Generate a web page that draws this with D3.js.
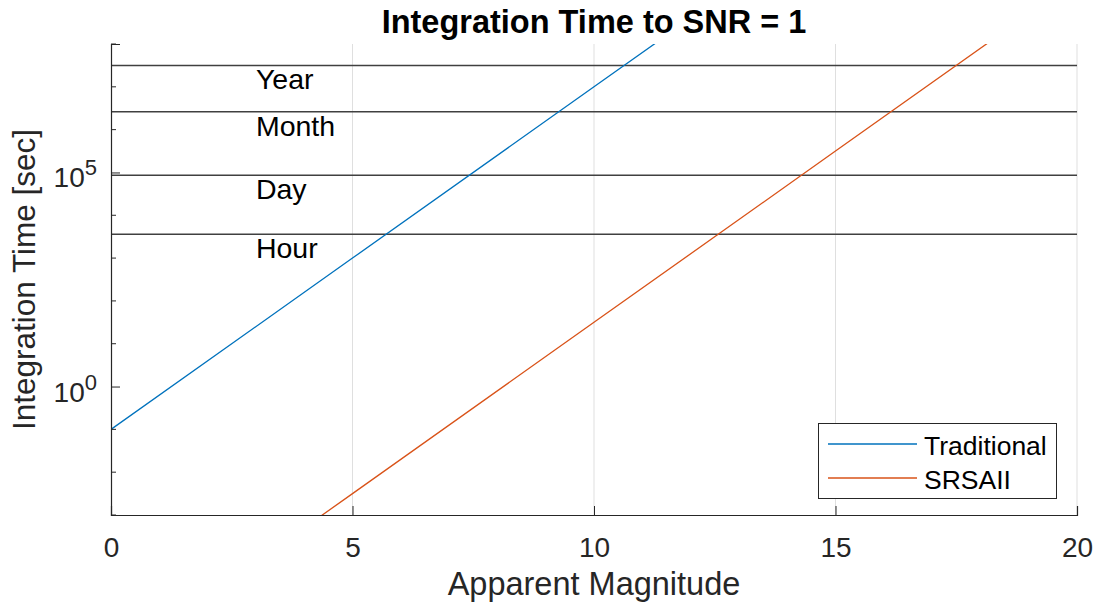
<!DOCTYPE html>
<html><head><meta charset="utf-8">
<script src="https://cdn.jsdelivr.net/npm/d3@7"></script>
<style>body{margin:0;background:#fff}svg{display:block}text{font-family:"Liberation Sans",Arial,sans-serif}</style>
</head><body><svg id="c" width="1097" height="602"></svg>
<script>
const magnitudes = [0, 5, 10, 15, 20];
const traditional = [0.1, 1e3, 1e7, 1e11, 1e15];
const srsaii = [3.16e-7, 3.16e-3, 31.6, 3.16e5, 3.16e9];
const refNames = ["Year", "Month", "Day", "Hour"];
const refValues = [31557600, 2629800, 86400, 3600];
const xTicks = [0, 5, 10, 15, 20];
const yLabelTicks = [1e0, 1e5];
const yMinorTicks = [1e-3, 1e-2, 1e-1, 1e1, 1e2, 1e3, 1e4, 1e6, 1e7, 1e8];
const seriesNames = ["Traditional", "SRSAII"];
const colors = ["#0072BD", "#D95319"];

const svg = d3.select("#c");
const L = 111, R = 1077, T = 44, B = 515;
const x = d3.scaleLinear().domain([0, 20]).range([L, R]);
const y = d3.scaleLog().domain([1e-3, 1e8]).range([B, T]);
const axisCol = "#262626";

svg.append("defs").append("clipPath").attr("id", "clip")
  .append("rect").attr("x", L).attr("y", T).attr("width", R - L).attr("height", B - T);

// vertical grid
svg.append("g").selectAll("line").data(xTicks.filter(d => d > 0)).join("line")
  .attr("x1", d => x(d)).attr("x2", d => x(d)).attr("y1", T).attr("y2", B)
  .attr("stroke", "#dfdfdf").attr("stroke-width", 1);

// reference lines
svg.append("g").selectAll("line").data(refValues).join("line")
  .attr("x1", L).attr("x2", R).attr("y1", d => y(d)).attr("y2", d => y(d))
  .attr("stroke", "#404040").attr("stroke-width", 1.5);
svg.append("g").selectAll("text").data(refNames).join("text")
  .attr("x", x(3)).attr("y", (d, i) => y(refValues[i]) + 24)
  .attr("font-size", 28.5).attr("fill", "#000").text(d => d);

// series
const line = d3.line().x(d => x(d[0])).y(d => y(d[1]));
[traditional, srsaii].forEach((s, i) => {
  svg.append("path").attr("clip-path", "url(#clip)")
    .datum(magnitudes.map((m, j) => [m, s[j]]))
    .attr("d", line).attr("fill", "none").attr("stroke", colors[i]).attr("stroke-width", 1.3);
});

// x axis
const xa = svg.append("g").attr("transform", `translate(0,${B})`)
  .call(d3.axisBottom(x).tickValues(xTicks).tickSize(-9).tickPadding(22).tickFormat(d3.format("d")));
xa.select(".domain").attr("stroke", axisCol).attr("stroke-width", 1.2);
xa.selectAll(".tick line").attr("stroke", axisCol);
xa.selectAll(".tick text").attr("font-size", 28).attr("fill", axisCol).attr("font-family", "Liberation Sans, Arial, sans-serif");

// y axis
const ya = svg.append("g").attr("transform", `translate(${L},0)`)
  .call(d3.axisLeft(y).tickValues(yLabelTicks).tickSize(-9).tickFormat(""));
ya.select(".domain").attr("stroke", axisCol).attr("stroke-width", 1.2);
ya.selectAll(".tick line").attr("stroke", axisCol);
svg.append("g").selectAll("line").data(yMinorTicks).join("line")
  .attr("x1", L).attr("x2", L + 5).attr("y1", d => y(d)).attr("y2", d => y(d))
  .attr("stroke", axisCol).attr("stroke-width", 1);
const yl = svg.append("g").selectAll("text").data(yLabelTicks).join("text")
  .attr("x", 97).attr("y", d => y(d) + 15).attr("text-anchor", "end")
  .attr("fill", axisCol).attr("font-size", 28);
yl.append("tspan").text("10");
yl.append("tspan").attr("font-size", 22).attr("dy", -12).text(d => Math.round(Math.log10(d)));

// labels
svg.append("text").attr("x", (L + R) / 2).attr("y", 595).attr("text-anchor", "middle")
  .attr("font-size", 32.5).attr("fill", axisCol).text("Apparent Magnitude");
svg.append("text").attr("transform", `translate(35,${(T + B) / 2}) rotate(-90)`).attr("text-anchor", "middle")
  .attr("font-size", 31.5).attr("fill", axisCol).text("Integration Time [sec]");
svg.append("text").attr("x", (L + R) / 2).attr("y", 33).attr("text-anchor", "middle")
  .attr("font-size", 32.5).attr("font-weight", "bold").attr("fill", "#000").text("Integration Time to SNR = 1");

// legend
const lg = svg.append("g");
lg.append("rect").attr("x", 818.5).attr("y", 423.5).attr("width", 238).attr("height", 75)
  .attr("fill", "#fff").attr("stroke", axisCol).attr("stroke-width", 1);
seriesNames.forEach((n, i) => {
  const yy = 444 + i * 34;
  lg.append("line").attr("x1", 828).attr("x2", 917).attr("y1", yy).attr("y2", yy)
    .attr("stroke", colors[i]).attr("stroke-width", 1.3);
  lg.append("text").attr("x", 924).attr("y", yy + 11).attr("font-size", 26.5).attr("fill", "#000").text(n);
});
</script></body></html>
